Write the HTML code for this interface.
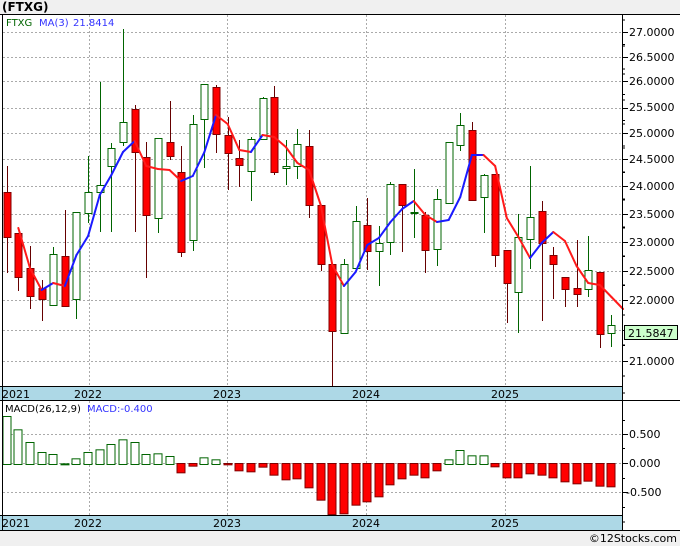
<!DOCTYPE html>
<html><head><meta charset="utf-8"><style>
html,body{margin:0;padding:0;background:#fff;}
svg{display:block;font-family:"DejaVu Sans","Liberation Sans",sans-serif;}
</style></head><body>
<svg id="s" width="680" height="546" viewBox="0 0 680 546" xmlns="http://www.w3.org/2000/svg">
<rect x="0" y="0" width="680" height="546" fill="#ffffff"/>
<rect x="0" y="0" width="680" height="14" fill="#f0f0f0"/>
<rect x="0" y="531" width="680" height="15" fill="#f0f0f0"/>
<text x="2" y="11" font-size="12" font-weight="bold" fill="#000">(FTXG)</text>
<g id="grid" stroke="#aaaaaa" stroke-width="1" stroke-dasharray="2,2"></g>
<g id="plot"></g>
<!-- bands -->
<rect x="0" y="387" width="622" height="14" fill="#add8e6"/>
<rect x="0" y="515" width="622" height="15" fill="#add8e6"/>
<line x1="0" y1="386.5" x2="622" y2="386.5" stroke="#000"/>
<line x1="0" y1="400.5" x2="680" y2="400.5" stroke="#000"/>
<line x1="0" y1="515.5" x2="622" y2="515.5" stroke="#000"/>
<line x1="0" y1="530.5" x2="680" y2="530.5" stroke="#000"/>
<line x1="0" y1="14.5" x2="680" y2="14.5" stroke="#000"/>
<line x1="2.5" y1="14" x2="2.5" y2="531" stroke="#000"/>
<line x1="622.5" y1="14" x2="622.5" y2="531" stroke="#000"/>
<g font-size="11" fill="#000">
<text x="2" y="398">2021</text><text x="74" y="398">2022</text><text x="213" y="398">2023</text><text x="352" y="398">2024</text><text x="491" y="398">2025</text>
<text x="2" y="527">2021</text><text x="74" y="527">2022</text><text x="213" y="527">2023</text><text x="352" y="527">2024</text><text x="491" y="527">2025</text>
</g>
<g id="ticks" stroke="#000"></g>
<g font-size="11" fill="#000">
<text x="629" y="36">27.0000</text>
<text x="629" y="61">26.5000</text>
<text x="629" y="85">26.0000</text>
<text x="629" y="111">25.5000</text>
<text x="629" y="137">25.0000</text>
<text x="629" y="163">24.5000</text>
<text x="629" y="190">24.0000</text>
<text x="629" y="218">23.5000</text>
<text x="629" y="246">23.0000</text>
<text x="629" y="275">22.5000</text>
<text x="629" y="304">22.0000</text>
<text x="629" y="365">21.0000</text>
<text x="629" y="438">0.500</text>
<text x="629" y="467">0.000</text>
<text x="626" y="496">-0.500</text>
</g>
<rect x="624.5" y="325.5" width="53" height="14" fill="#ccffcc" stroke="#000"/>
<text x="628" y="337" font-size="11" fill="#000">21.5847</text>
<text x="6" y="26" font-size="10" fill="#006400">FTXG</text>
<text x="39" y="26" font-size="10" fill="#3333ff">MA(3)</text>
<text x="73" y="26" font-size="10" fill="#3333ff">21.8414</text>
<text x="5" y="412" font-size="10" fill="#000">MACD(26,12,9)</text>
<text x="87" y="412" font-size="10" fill="#3333ff">MACD:-0.400</text>
<text x="677" y="542" font-size="11" fill="#000" text-anchor="end">©12Stocks.com</text>
</svg>
<script>
var NS="http://www.w3.org/2000/svg";
function el(p,t,a){var e=document.createElementNS(NS,t);for(var k in a)e.setAttribute(k,a[k]);p.appendChild(e);return e;}
var grid=document.getElementById('grid'),plot=document.getElementById('plot'),ticks=document.getElementById('ticks');
var gy=[32,57,81,108,133,159,186,214,242,271,300,330,361];
gy.forEach(function(y){el(grid,'line',{x1:3,y1:y+.5,x2:622,y2:y+.5});});
[434,463,492].forEach(function(y){el(grid,'line',{x1:3,y1:y+.5,x2:622,y2:y+.5});});
[89,227,366,505].forEach(function(x){el(grid,'line',{x1:x+.5,y1:15,x2:x+.5,y2:386});el(grid,'line',{x1:x+.5,y1:401,x2:x+.5,y2:515});});
for(var i=0;i<gy.length;i++){el(ticks,'line',{x1:622,y1:gy[i]+.5,x2:628,y2:gy[i]+.5});if(i<gy.length-1){var m=(gy[i]+gy[i+1])/2;el(ticks,'line',{x1:622,y1:m,x2:625,y2:m});}}
[20,46,74,100,124,148,172,199,227,256,285,315,345,376].forEach(function(y){el(ticks,'line',{x1:622,y1:y,x2:625,y2:y});});
[420,434,448,463,478,492,507].forEach(function(y){el(ticks,'line',{x1:622,y1:y+.5,x2:(y==434||y==463||y==492)?628:625,y2:y+.5});});
[393,522].forEach(function(y){el(ticks,'line',{x1:622,y1:y,x2:625,y2:y});});
// candles: [up, bodyTop, bodyBot, wickTop, wickBot]
var C=[[0,192,237,166,273],[0,233,277,233,291],[0,268,296,246,309],[0,288,299,280,321],[1,254,305,247,305],[0,256,306,210,306],[1,212,299,212,319],[1,192,213,156,223],[1,185,192,82,232],[1,148,166,143,232],[1,122,142,29,146],[0,109,152,105,232],[0,157,215,142,278],[1,138,218,138,233],[0,142,156,101,160],[0,172,252,146,257],[1,124,240,115,251],[1,84,119,84,168],[0,87,134,85,153],[0,135,153,117,190],[0,158,165,140,187],[1,139,171,137,201],[1,98,139,97,140],[0,97,172,86,175],[1,166,168,140,185],[1,144,166,129,179],[0,146,205,130,218],[0,205,264,205,271],[0,264,331,264,388],[1,264,333,259,333],[1,221,268,206,268],[0,225,251,198,270],[1,243,251,226,286],[1,184,242,182,255],[0,184,205,184,252],[1,212,213,169,238],[0,215,250,212,273],[1,199,249,189,266],[1,142,203,142,203],[1,125,145,113,151],[0,130,200,122,200],[1,175,197,174,233],[0,174,255,174,267],[0,250,283,250,323],[1,237,292,214,333],[1,217,239,166,269],[0,211,243,201,321],[0,255,264,247,299],[0,277,289,277,307],[0,288,294,240,307],[1,270,289,236,297],[0,272,334,272,348],[1,325,333,315,347]];
function X(i){return 6.7+11.63*i;}
C.forEach(function(c,i){var x=Math.round(X(i));
 var wc=c[0]?'#006400':'#660000';
 el(plot,'line',{x1:x+.5,y1:c[3],x2:x+.5,y2:c[4],stroke:wc,'stroke-width':1});
 var h=Math.max(c[2]-c[1],1);
 el(plot,'rect',{x:x-3,y:c[1]+.5,width:7,height:h,fill:c[0]?'#ffffff':'#ff0000',stroke:c[0]?'#006400':'#800000','stroke-width':1});
});
var MA=[null,228,268,290,283,286,255,236,195,175,152,141,166,169,170,181,176,152,115,124,150,152,135,137,147,163,170,205,265,286,272,245,238,222,209,201,215,222,220,197,155,155,166,218,237,258,243,232,241,266,283,285,297,309];
for(var i=1;i<MA.length-1;i++){if(MA[i+1]==null)continue;
 var col=MA[i+1]>MA[i]?'#ff1a1a':'#1a1aff';
 el(plot,'line',{x1:X(i),y1:MA[i],x2:X(i+1),y2:MA[i+1],stroke:col,'stroke-width':2,'stroke-linecap':'round'});}
var B=[108,148,186,216,222,250,235,216,208,192,178,186,222,220,228,280,260,232,238,256,274,277,263,287,301,298,325,362,405,403,377,367,352,316,298,287,295,274,238,210,226,226,262,295,295,283,287,295,307,313,305,320,322];
B.forEach(function(z,i){var x=Math.round(X(i));var y0=464,y=380+z/3;
 if(z<253){var h=y0-y;el(plot,'rect',{x:x-4,y:y+.5,width:8,height:Math.max(h,1),fill:'#ffffff',stroke:'#006400','stroke-width':1});}
 else{var h=y-y0;el(plot,'rect',{x:x-4,y:y0-.5,width:8,height:Math.max(h,1),fill:'#ff0000',stroke:'#800000','stroke-width':1});}
});
</script>
</body></html>
